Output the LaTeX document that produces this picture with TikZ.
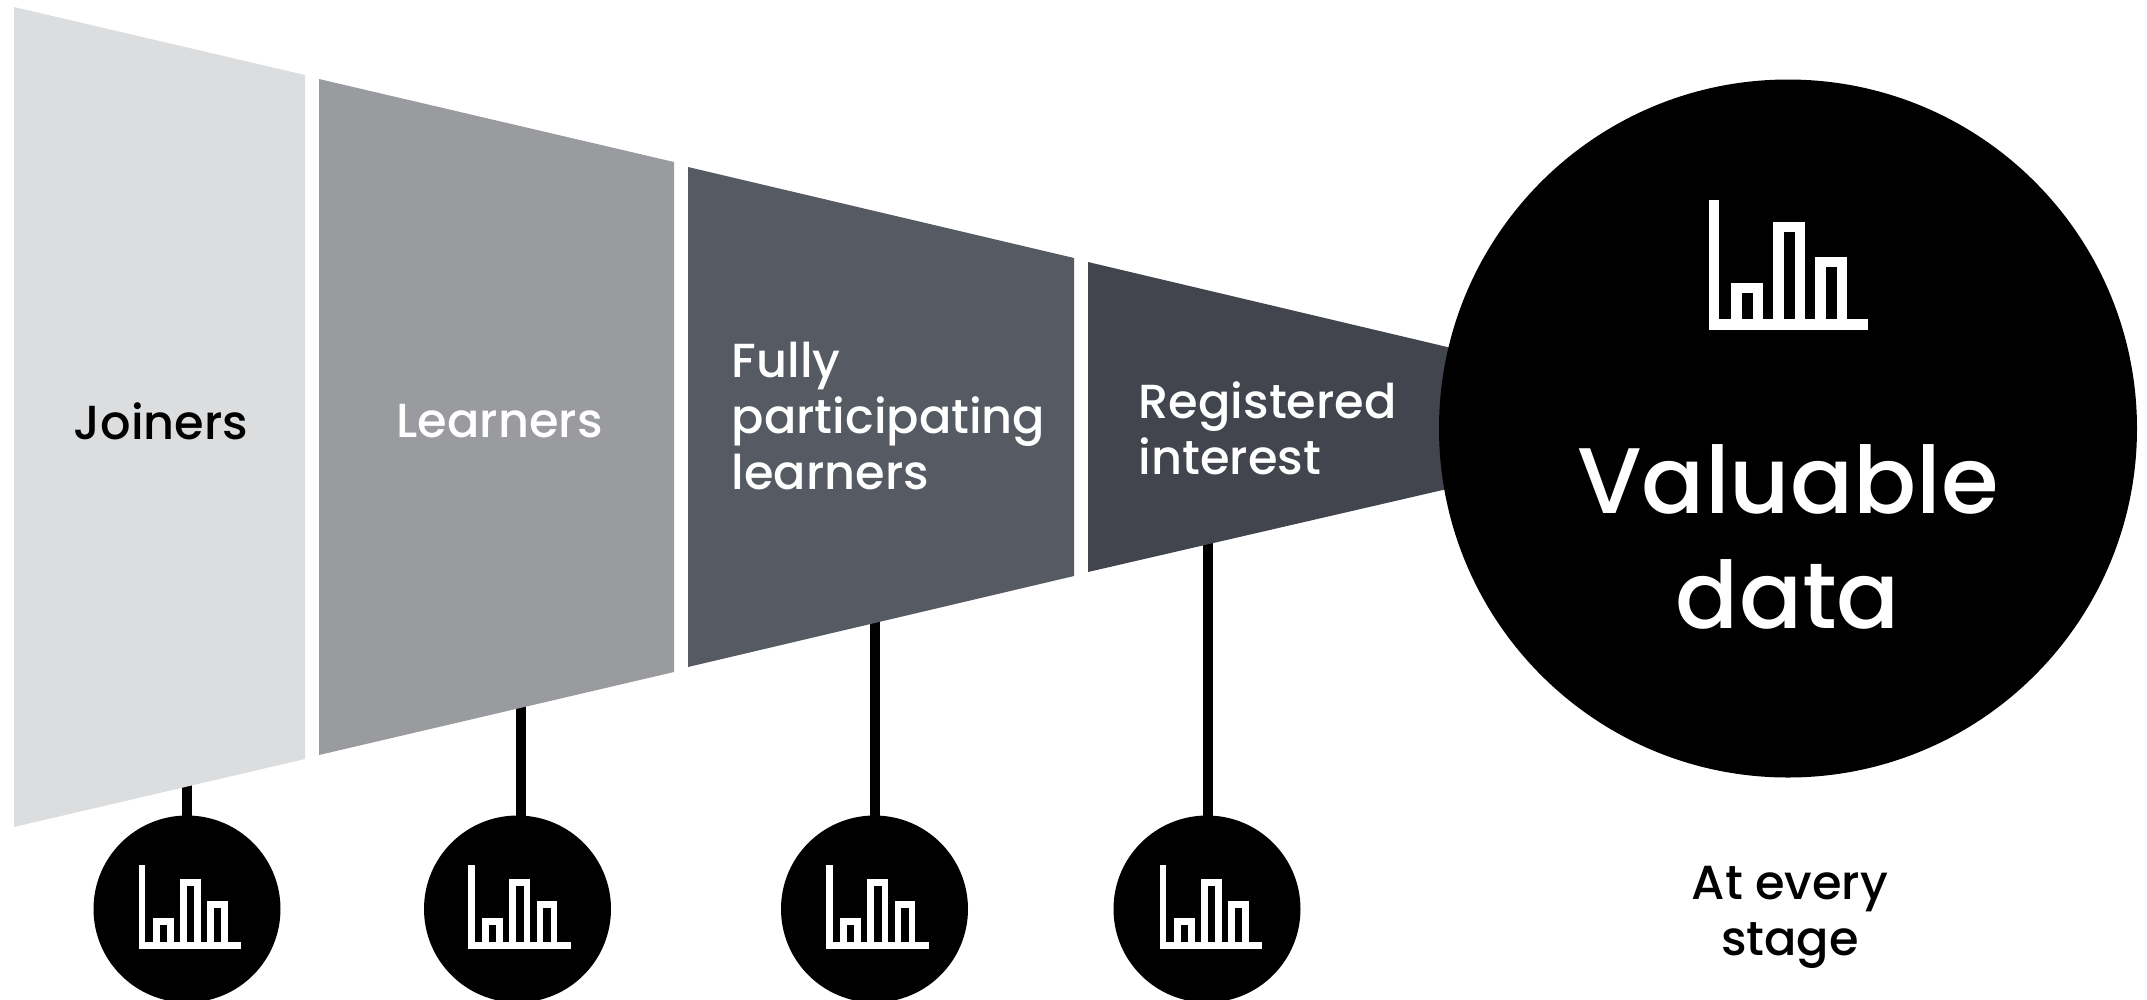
\documentclass[tikz,border=0pt]{standalone}
\usepackage{fontspec}
\setmainfont{Poppins}[UprightFont = * Medium]
\definecolor{joinercolor}{HTML}{DCDDDF}
\definecolor{learnercolor}{HTML}{9A9B9F}
\definecolor{fullcolor}{HTML}{565A62}
\definecolor{registercolor}{HTML}{42454D}
\tikzset{
  dotnode/.style = {circle, fill = black, inner sep = 0, minimum size = 187*0.01cm},
  bignode/.style = {circle, fill = black, inner sep = 0, minimum size = 698*0.01cm},
  stem/.style = {draw = black, line width = 10.7*0.01cm},
  label/.style = {inner sep = 0, align = left, font = \fontsize{13.6}{16}\selectfont},
  charticon/.pic = {
    \fill [white] (0,0) rectangle (159.6,-10.5);
    \fill [white] (0,0) rectangle (10.5,-130);
    \foreach \x/\h in {22.3/47,64.3/108,106.3/73} {
      \fill [white] (\x,0) rectangle (\x+32,-\h);
      \fill [black] (\x+10.7,-10.5) rectangle (\x+21.8,-\h+10.5);
    }
  }
}
\begin{document}
\begin{tikzpicture}[x = 0.01cm, y = -0.01cm]
\clip (0,0) rectangle (2147,999);
\coordinate (s1) at (187,770);
\coordinate (s2) at (521,690);
\coordinate (s3) at (875,610);
\coordinate (s4) at (1208,530);
\node [dotnode] (c1) at (187,909) {};
\node [dotnode] (c2) at (517.5,909) {};
\node [dotnode] (c3) at (874.5,909) {};
\node [dotnode] (c4) at (1207,909) {};
\foreach \n in {1,...,4} \draw [stem] (s\n) -- (s\n |- c\n);
\fill [joinercolor] (14,7) -- (305,75) -- (305,759) -- (14,827) -- cycle;
\fill [learnercolor] (319,79) -- (674,162) -- (674,672) -- (319,755) -- cycle;
\fill [fullcolor] (688,167) -- (1074,258) -- (1074,576) -- (688,667) -- cycle;
\fill [registercolor] (1088,262) -- (1460,350) -- (1460,486) -- (1088,572) -- cycle;
\node [bignode] (big) at (1788,428.5) {};
\pic at (1708.7,329.5) {charticon};
\foreach \n/\x in {1/138.5,2/468,3/826,4/1159.5} \pic [scale = 0.645] at (\x,948.5) {charticon};
\node [label, anchor = west, text = black] (joiners) at (73,421) {Joiners};
\node [label, anchor = west, text = white] (learners) at (396,421) {Learners};
\node [label, anchor = west, text = white] (fully) at (731,416) {Fully\\participating\\learners};
\node [label, anchor = west, text = white] (registered) at (1138,428) {Registered\\interest};
\node [label, align = center, font = \fontsize{26.5}{32.7}\selectfont, text = white] (valuable) at (1788,537) {Valuable\\data};
\node [label, align = center, text = black] (stage) at (1790,917) {At every\\stage};
\end{tikzpicture}
\end{document}
